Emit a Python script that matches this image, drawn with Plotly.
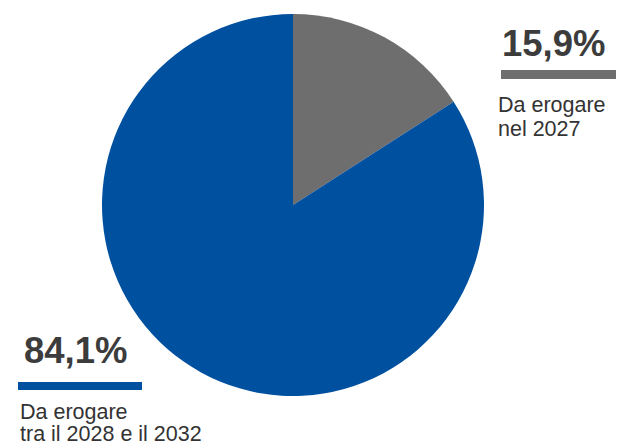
import plotly.graph_objects as go

labels = ["Da erogare nel 2027", "Da erogare tra il 2028 e il 2032"]
values = [15.9, 84.1]
colors = ["#6E6E6E", "#0050A0"]
pct_text = ["15,9%", "84,1%"]
desc_lines = [["Da erogare", "nel 2027"], ["Da erogare", "tra il 2028 e il 2032"]]

W, H = 620, 446
fig = go.Figure(go.Pie(
    labels=labels, values=values, sort=False, direction="clockwise", rotation=0,
    marker=dict(colors=colors, line=dict(width=0)),
    textinfo="none", hoverinfo="label+percent", showlegend=False,
    domain=dict(x=[102 / W, 484 / W], y=[50 / H, 432 / H]),
))

def px(x): return x / W
def py(y): return 1 - y / H

font = "Liberation Sans, Arial, sans-serif"
PCT_SIZE = 36.5
DESC_SIZE = 21.5

blocks = [
    dict(x=500, pct_base=58, bar=(501, 616, 70, 79), desc_base=[114, 138]),
    dict(x=22, pct_base=365, bar=(18, 142, 382, 390), desc_base=[421, 443]),
]
for i, b in enumerate(blocks):
    fig.add_annotation(x=px(b["x"]), y=py(b["pct_base"] + 0.23 * PCT_SIZE), xref="paper", yref="paper",
                       xanchor="left", yanchor="bottom", text="<b>" + pct_text[i] + "</b>",
                       showarrow=False, font=dict(family=font, size=PCT_SIZE, color="#3C3C3C"))
    x0, x1, y0, y1 = b["bar"]
    fig.add_shape(type="rect", xref="paper", yref="paper", x0=px(x0), x1=px(x1), y0=py(y1), y1=py(y0),
                  fillcolor=colors[i], line=dict(width=0))
    for line, base in zip(desc_lines[i], b["desc_base"]):
        fig.add_annotation(x=px(b["x"] - 4), y=py(base + 0.23 * DESC_SIZE), xref="paper", yref="paper",
                           xanchor="left", yanchor="bottom", text=line, showarrow=False,
                           font=dict(family=font, size=DESC_SIZE, color="#333333"))

fig.update_layout(width=W, height=H, margin=dict(l=0, r=0, t=0, b=0),
                  paper_bgcolor="white", plot_bgcolor="white")
fig.write_html("out.html", config={"displayModeBar": False},
               post_script="document.body.style.margin='0';document.body.style.overflow='hidden';")
